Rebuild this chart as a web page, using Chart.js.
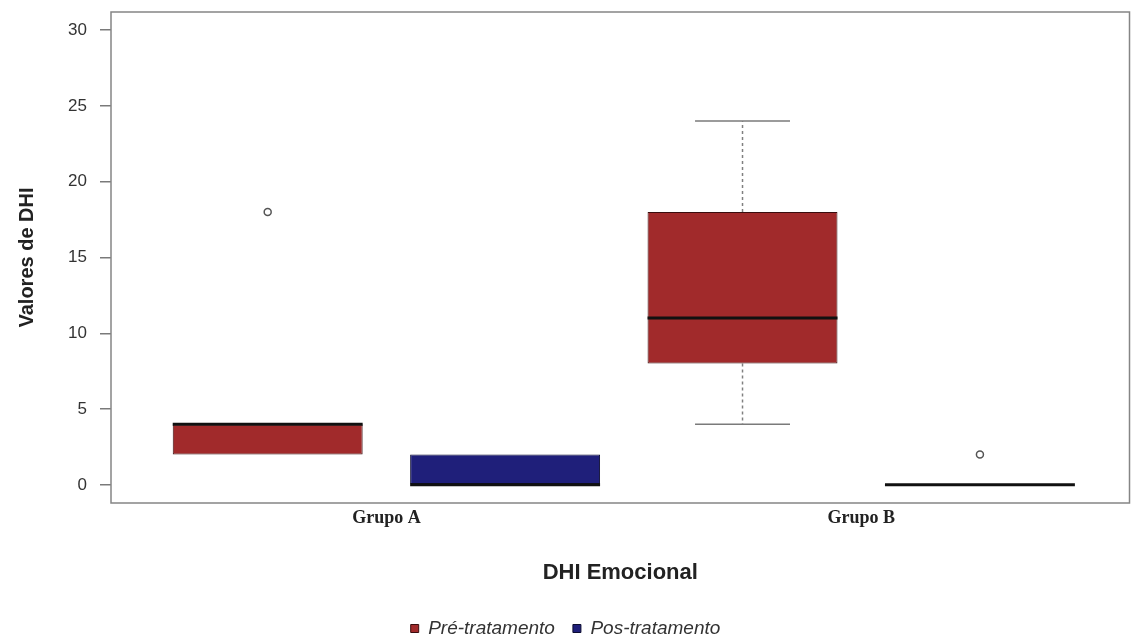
<!DOCTYPE html>
<html lang="pt">
<head>
    <meta charset="UTF-8">
    <title>DHI Emocional</title>
    <script src="https://cdn.jsdelivr.net/npm/chart.js"></script>
    <style>
        html, body { margin: 0; padding: 0; background: #fff; overflow: hidden; }
        #wrap { width: 1135px; height: 637px; }
    </style>
</head>
<body>
    <div id="wrap"><canvas id="dhiChart"></canvas></div>
    <script>
        // data
        const groups = ['Grupo A', 'Grupo B'];
        const seriesNames = ['Pré-tratamento', 'Pos-tratamento'];
        const yTicks = [0, 5, 10, 15, 20, 25, 30];

        const preMin = [2, 4];
        const preQ1 = [2, 8];
        const preMedian = [4, 11];
        const preQ3 = [4, 18];
        const preMax = [4, 24];
        const preOutliers = [[18], []];

        const postMin = [0, 0];
        const postQ1 = [0, 0];
        const postMedian = [0, 0];
        const postQ3 = [2, 0];
        const postMax = [2, 0];
        const postOutliers = [[], [2]];

        const series = [
            { min: preMin, q1: preQ1, med: preMedian, q3: preQ3, max: preMax, out: preOutliers,
              fill: '#a12a2b', edge: '#3a0d0e' },
            { min: postMin, q1: postQ1, med: postMedian, q3: postQ3, max: postMax, out: postOutliers,
              fill: '#1f1f7a', edge: '#0c0c30' }
        ];

        const boxHalf = 0.4;   // boxwex 0.8
        const capHalf = 0.2;
        const pos = (g, s) => g * 2 + 1 + s;

        const datasets = [];

        series.forEach((s, si) => {
            datasets.push({
                type: 'bar',
                label: seriesNames[si],
                isBox: true,
                data: groups.map((g, gi) => ({ x: pos(gi, si), y: [s.q1[gi], s.q3[gi]] })),
                backgroundColor: s.fill,
                borderColor: s.edge,
                borderWidth: 1,
                borderSkipped: false,
                grouped: false,
                categoryPercentage: 1,
                barPercentage: 0.8,
                order: 10
            });
        });

        series.forEach((s, si) => {
            groups.forEach((g, gi) => {
                const x = pos(gi, si);
                // whiskers + caps (hidden under the box when they coincide with it)
                [[s.q3[gi], s.max[gi]], [s.q1[gi], s.min[gi]]].forEach(([a, b]) => {
                    if (a === b) return;
                    datasets.push({
                        type: 'line',
                        data: [{ x: x, y: a }, { x: x, y: b }],
                        borderColor: '#808080',
                        borderWidth: 1.5,
                        borderDash: [3, 3],
                        pointRadius: 0,
                        order: 12
                    });
                    datasets.push({
                        type: 'line',
                        data: [{ x: x - capHalf, y: b }, { x: x + capHalf, y: b }],
                        borderColor: '#7a7a7a',
                        borderWidth: 1.5,
                        pointRadius: 0,
                        order: 12
                    });
                });
                // median
                datasets.push({
                    type: 'line',
                    data: [{ x: x - boxHalf, y: s.med[gi] }, { x: x + boxHalf, y: s.med[gi] }],
                    borderColor: '#111',
                    borderWidth: 3,
                    pointRadius: 0,
                    order: 1
                });
                // outliers
                if (s.out[gi].length) {
                    datasets.push({
                        type: 'scatter',
                        data: s.out[gi].map(v => ({ x: x, y: v })),
                        borderColor: '#555',
                        backgroundColor: 'rgba(255,255,255,0)',
                        borderWidth: 1.5,
                        pointRadius: 3.5,
                        order: 0
                    });
                }
            });
        });

        const framePlugin = {
            id: 'frame',
            afterDatasetsDraw(chart) {
                const a = chart.chartArea;
                const c = chart.ctx;
                c.save();
                c.strokeStyle = '#858585';
                c.lineWidth = 1.5;
                c.strokeRect(a.left, a.top, a.right - a.left, a.bottom - a.top);
                c.restore();
            }
        };

        const ctx = document.getElementById('dhiChart').getContext('2d');
        new Chart(ctx, {
            type: 'bar',
            data: { datasets: datasets },
            plugins: [framePlugin],
            options: {
                responsive: true,
                maintainAspectRatio: false,
                animation: false,
                layout: { padding: { top: 12, right: 4, left: 0, bottom: -11 } },
                plugins: {
                    tooltip: { enabled: false },
                    legend: {
                        position: 'bottom',
                        labels: {
                            filter: (item, data) => data.datasets[item.datasetIndex].isBox,
                            boxWidth: 8,
                            boxHeight: 8,
                            padding: 18,
                            color: '#333',
                            font: { family: 'Liberation Sans, Arial, sans-serif', size: 19, style: 'italic' }
                        }
                    }
                },
                scales: {
                    x: {
                        type: 'linear',
                        offset: false,
                        min: 0.34,
                        max: 4.63,
                        afterFit: s => { s.height = 98; s.paddingLeft = 0; s.paddingRight = 0; },
                        afterBuildTicks: s => { s.ticks = groups.map((g, gi) => ({ value: gi * 2 + 1.5 })); },
                        border: { display: false },
                        grid: { display: false, drawTicks: false, offset: false },
                        ticks: {
                            padding: 5,
                            color: '#222',
                            autoSkip: false,
                            maxRotation: 0,
                            font: { family: 'Liberation Serif, Times New Roman, serif', size: 18, weight: 'bold' },
                            callback: (v) => groups[Math.round((v - 1.5) / 2)]
                        },
                        title: {
                            display: true,
                            text: 'DHI Emocional',
                            color: '#222',
                            padding: { top: 0, bottom: 15 },
                            font: { family: 'Liberation Sans, Arial, sans-serif', size: 22, weight: 'bold' }
                        }
                    },
                    y: {
                        min: -1.2,
                        max: 31.2,
                        afterFit: s => { s.width = 111; s.paddingTop = 0; s.paddingBottom = 0; },
                        afterBuildTicks: s => { s.ticks = yTicks.map(v => ({ value: v })); },
                        border: { display: false },
                        grid: { drawOnChartArea: false, drawTicks: true, tickLength: 11, color: '#7a7a7a', lineWidth: 1.5 },
                        ticks: {
                            padding: 13,
                            color: '#333',
                            font: { family: 'Liberation Sans, Arial, sans-serif', size: 17 }
                        },
                        title: {
                            display: true,
                            text: 'Valores de DHI',
                            color: '#222',
                            padding: { top: 15, bottom: 0 },
                            font: { family: 'Liberation Sans, Arial, sans-serif', size: 20, weight: 'bold' }
                        }
                    }
                }
            }
        });
    </script>
</body>
</html>
